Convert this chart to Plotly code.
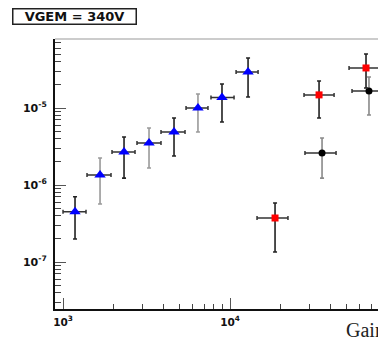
import numpy as np
import plotly.graph_objects as go

# Blue triangles: gain, rate, and error-bar bounds
blue_x = [1180, 1666, 2319, 3273, 4620, 6427, 8951, 12820]
blue_x_lo = [1000, 1392, 1965, 2773, 3861, 5452, 7690, 10870]
blue_x_hi = [1373, 1938, 2699, 3861, 5377, 7379, 10570, 14720]
blue_y = [4.50e-7, 1.35e-6, 2.68e-6, 3.51e-6, 4.88e-6, 1.00e-5, 1.37e-5, 2.94e-5]
blue_y_lo = [1.99e-7, 5.66e-7, 1.23e-6, 1.66e-6, 2.38e-6, 4.88e-6, 6.58e-6, 1.39e-5]
blue_y_hi = [7.05e-7, 2.24e-6, 4.20e-6, 5.50e-6, 7.42e-6, 1.52e-5, 2.05e-5, 4.46e-5]
blue_err_dark = [True, False, True, False, True, False, True, True]

# Red squares
red_x = [18600, 34120, 65190]
red_x_lo = [14510, 27730, 51600]
red_x_hi = [22230, 41980, 82400]
red_y = [3.73e-7, 1.48e-5, 3.31e-5]
red_y_lo = [1.35e-7, 7.42e-6, 1.82e-5]
red_y_hi = [5.84e-7, 2.24e-5, 5.02e-5]

# Black circles
blk_x = [35560, 67920]
blk_x_lo = [28100, 53750]
blk_x_hi = [43140, 85900]
blk_y = [2.61e-6, 1.66e-5]
blk_y_lo = [1.23e-6, 8.11e-6]
blk_y_hi = [4.07e-6, 2.53e-5]

x_major = [1e3, 1e4]
x_major_text = ["<b>10<sup>3</sup></b>", "<b>10<sup>4</sup></b>"]
y_major = [1e-7, 1e-6, 1e-5]
y_major_text = ["<b>10<sup>-7</sup></b>", "<b>10<sup>-6</sup></b>", "<b>10<sup>-5</sup></b>"]


def minor_vals(lo_exp, hi_exp):
    return [m * 10.0 ** e for e in range(lo_exp, hi_exp + 1) for m in range(2, 10)]


def series(x, xlo, xhi, y, ylo, yhi, idx, symbol, size, color, ycol):
    x = np.asarray(x, float)[idx]
    y = np.asarray(y, float)[idx]
    xlo = np.asarray(xlo, float)[idx]
    xhi = np.asarray(xhi, float)[idx]
    ylo = np.asarray(ylo, float)[idx]
    yhi = np.asarray(yhi, float)[idx]
    return go.Scatter(
        x=x, y=y, mode="markers",
        marker=dict(symbol=symbol, size=size, color=color, line=dict(width=0)),
        error_x=dict(type="data", symmetric=False, array=xhi - x, arrayminus=x - xlo,
                     color="#333333", thickness=1.5, width=2),
        error_y=dict(type="data", symmetric=False, array=yhi - y, arrayminus=y - ylo,
                     color=ycol, thickness=1.6, width=2),
        showlegend=False, cliponaxis=True,
    )


fig = go.Figure()
dark_idx = [i for i, d in enumerate(blue_err_dark) if d]
grey_idx = [i for i, d in enumerate(blue_err_dark) if not d]
fig.add_trace(series(blue_x, blue_x_lo, blue_x_hi, blue_y, blue_y_lo, blue_y_hi,
                     grey_idx, "triangle-up", 10, "#0000ff", "#9a9a9a"))
fig.add_trace(series(blue_x, blue_x_lo, blue_x_hi, blue_y, blue_y_lo, blue_y_hi,
                     dark_idx, "triangle-up", 10, "#0000ff", "#222222"))
fig.add_trace(series(blk_x, blk_x_lo, blk_x_hi, blk_y, blk_y_lo, blk_y_hi,
                     list(range(len(blk_x))), "circle", 7, "#000000", "#8a8a8a"))
fig.add_trace(series(red_x, red_x_lo, red_x_hi, red_y, red_y_lo, red_y_hi,
                     list(range(len(red_x))), "square", 7, "#ff0000", "#222222"))

x_tick_font = dict(family="DejaVu Sans", size=10.5, color="#111111")
y_tick_font = dict(family="DejaVu Sans", size=11, color="#111111")

fig.update_xaxes(
    type="log", range=[2.952, 4.886],
    tickmode="array", tickvals=x_major, ticktext=x_major_text,
    ticks="inside", ticklen=11, tickwidth=1, tickcolor="#555555",
    minor=dict(tickmode="array", tickvals=minor_vals(2, 4), ticks="inside",
               ticklen=5, tickwidth=1, tickcolor="#444444", showgrid=False),
    showline=True, linecolor="#111111", linewidth=2,
    showgrid=False, zeroline=False, tickfont=x_tick_font, ticklabelstandoff=2,
)
fig.update_yaxes(
    type="log", range=[-7.61, -4.104],
    tickmode="array", tickvals=y_major, ticktext=y_major_text,
    ticks="inside", ticklen=11, tickwidth=1, tickcolor="#555555",
    minor=dict(tickmode="array", tickvals=minor_vals(-9, -5), ticks="inside",
               ticklen=6, tickwidth=1, tickcolor="#444444", showgrid=False),
    showline=True, linecolor="#111111", linewidth=2,
    showgrid=False, zeroline=False, tickfont=y_tick_font, ticklabelstandoff=4,
)

fig.add_shape(type="line", xref="paper", yref="paper", x0=0, x1=1, y0=1, y1=1,
              line=dict(color="#cccccc", width=2))

fig.add_annotation(
    text="<b>VGEM = 340V</b>", xref="paper", yref="paper",
    x=0.0604, y=1.0815, xanchor="center", yanchor="middle", showarrow=False,
    font=dict(family="DejaVu Sans", size=13, color="#111111"),
    bordercolor="#222222", borderwidth=1.5, borderpad=0,
    width=122, height=14, bgcolor="white",
)
fig.add_annotation(
    text="Gain", xref="paper", yref="paper",
    x=0.895, y=-0.077, xanchor="left", yanchor="middle", showarrow=False,
    font=dict(family="Liberation Serif", size=20, color="#222222"),
)

fig.update_layout(
    width=378, height=338,
    margin=dict(l=55, r=0, t=39, b=29),
    paper_bgcolor="white", plot_bgcolor="white",
)

fig.write_html("out.html")
